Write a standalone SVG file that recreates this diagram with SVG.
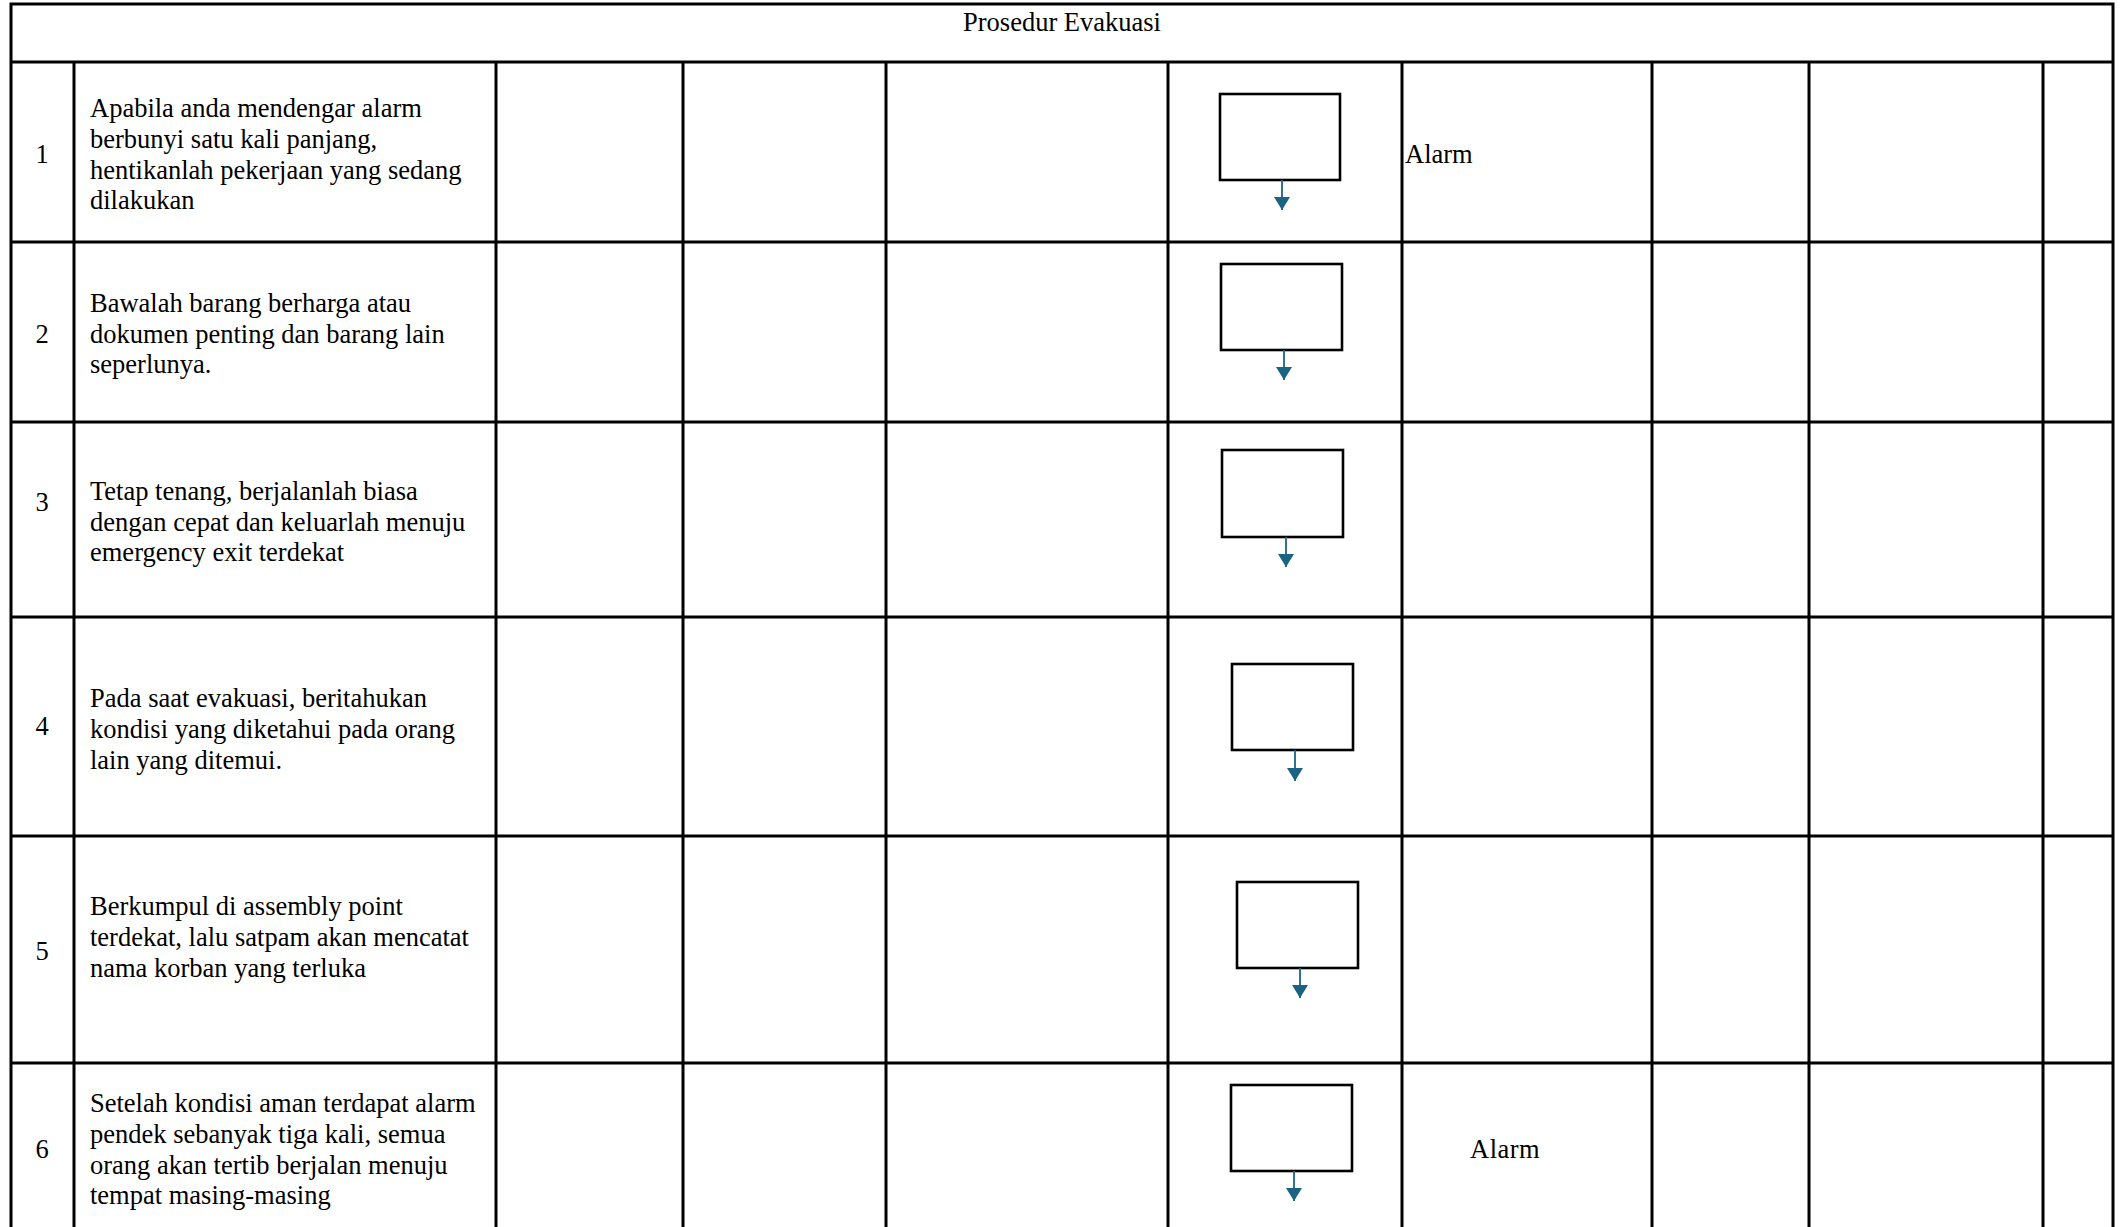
<svg xmlns="http://www.w3.org/2000/svg" width="2120" height="1227" viewBox="0 0 2120 1227">
<defs>
<style>
.grid{stroke:#000;stroke-width:3;fill:none}
.box{fill:#fff;stroke:#000;stroke-width:2.6}
.arr{stroke:#1a6385;stroke-width:1.8;fill:none}
.t{font-family:"Liberation Serif","Times New Roman",serif;font-size:26.5px;fill:#000}
.n{font-family:"Liberation Serif","Times New Roman",serif;font-size:26.5px;fill:#000;text-anchor:middle}
</style>
<marker id="ah" viewBox="0 0 10 10" refX="10" refY="5" markerWidth="13" markerHeight="16" markerUnits="userSpaceOnUse" orient="auto" preserveAspectRatio="none">
<path d="M0,0 L10,5 L0,10 z" fill="#1a6385"/>
</marker>
</defs>
<rect width="2120" height="1227" fill="#fff"/>
<g id="table">
<path class="grid" d="M11,1227 V4 H2113 V1227 M11,62 H2113 M11,242 H2113 M11,422 H2113 M11,617 H2113 M11,836 H2113 M11,1063 H2113 M74,62 V1227 M496,62 V1227 M683,62 V1227 M886,62 V1227 M1168,62 V1227 M1402,62 V1227 M1652,62 V1227 M1809,62 V1227 M2043,62 V1227"/>
<text class="n" x="1062" y="31">Prosedur Evakuasi</text>
</g>
<g id="row1">
<text class="n" x="42" y="163">1</text>
<text class="t" x="90" y="117">Apabila anda mendengar alarm</text>
<text class="t" x="90" y="148">berbunyi satu kali panjang,</text>
<text class="t" x="90" y="179">hentikanlah pekerjaan yang sedang</text>
<text class="t" x="90" y="209">dilakukan</text>
</g>
<g id="row2">
<text class="n" x="42" y="343">2</text>
<text class="t" x="90" y="312">Bawalah barang berharga atau</text>
<text class="t" x="90" y="343">dokumen penting dan barang lain</text>
<text class="t" x="90" y="373">seperlunya.</text>
</g>
<g id="row3">
<text class="n" x="42" y="511">3</text>
<text class="t" x="90" y="500">Tetap tenang, berjalanlah biasa</text>
<text class="t" x="90" y="531">dengan cepat dan keluarlah menuju</text>
<text class="t" x="90" y="561">emergency exit terdekat</text>
</g>
<g id="row4">
<text class="n" x="42" y="735">4</text>
<text class="t" x="90" y="707">Pada saat evakuasi, beritahukan</text>
<text class="t" x="90" y="738">kondisi yang diketahui pada orang</text>
<text class="t" x="90" y="769">lain yang ditemui.</text>
</g>
<g id="row5">
<text class="n" x="42" y="960">5</text>
<text class="t" x="90" y="915">Berkumpul di assembly point</text>
<text class="t" x="90" y="946">terdekat, lalu satpam akan mencatat</text>
<text class="t" x="90" y="977">nama korban yang terluka</text>
</g>
<g id="row6">
<text class="n" x="42" y="1158">6</text>
<text class="t" x="90" y="1112">Setelah kondisi aman terdapat alarm</text>
<text class="t" x="90" y="1143">pendek sebanyak tiga kali, semua</text>
<text class="t" x="90" y="1174">orang akan tertib berjalan menuju</text>
<text class="t" x="90" y="1204">tempat masing-masing</text>
</g>
<g id="box1"><rect class="box" x="1220" y="94" width="120" height="86"/></g>
<g id="box2"><rect class="box" x="1221" y="264" width="121" height="86"/></g>
<g id="box3"><rect class="box" x="1222" y="450" width="121" height="87"/></g>
<g id="box4"><rect class="box" x="1232" y="664" width="121" height="86"/></g>
<g id="box5"><rect class="box" x="1237" y="882" width="121" height="86"/></g>
<g id="box6"><rect class="box" x="1231" y="1085" width="121" height="86"/></g>
<g id="alarm1"><text class="t" x="1405" y="163">Alarm</text></g>
<g id="alarm6"><text class="t" x="1470" y="1158" letter-spacing="0.5">Alarm</text></g>
<g id="connectors">
<line class="arr" x1="1282" y1="180" x2="1282" y2="210" marker-end="url(#ah)"/>
<line class="arr" x1="1284" y1="350" x2="1284" y2="380" marker-end="url(#ah)"/>
<line class="arr" x1="1286" y1="537" x2="1286" y2="567" marker-end="url(#ah)"/>
<line class="arr" x1="1295" y1="750" x2="1295" y2="781" marker-end="url(#ah)"/>
<line class="arr" x1="1300" y1="968" x2="1300" y2="998" marker-end="url(#ah)"/>
<line class="arr" x1="1294" y1="1171" x2="1294" y2="1201" marker-end="url(#ah)"/>
</g>
</svg>
